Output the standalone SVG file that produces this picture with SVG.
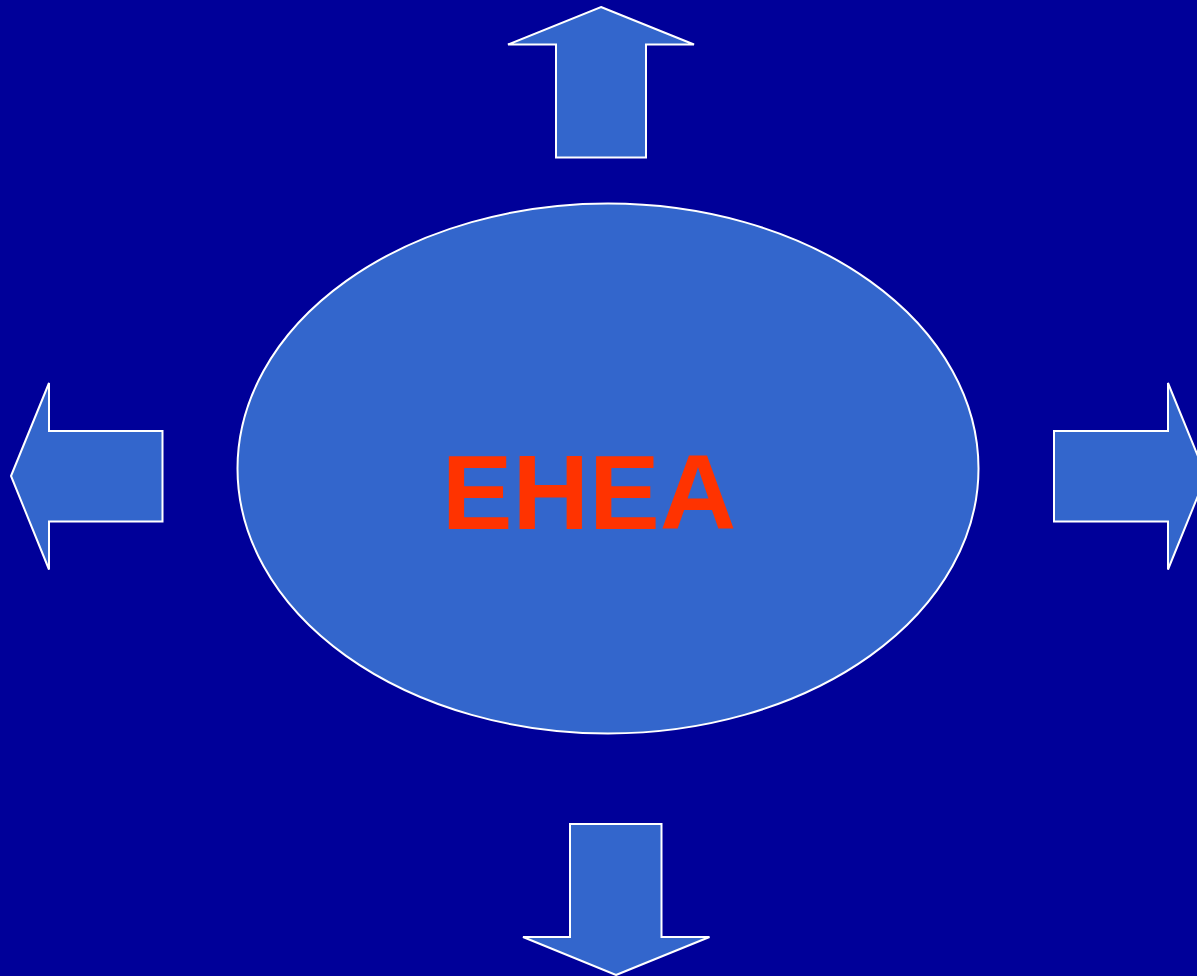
<svg xmlns="http://www.w3.org/2000/svg" width="1197" height="976" viewBox="0 0 1197 976">
<style>
.shape{fill:#3366CC;stroke:#FFFFFF;stroke-width:2}
.label{font-family:"Liberation Sans",Arial,sans-serif;font-weight:bold;fill:#FF3300}
</style>
<rect width="1197" height="976" fill="#000099"/>
<g id="center">
<ellipse class="shape" cx="608" cy="468.5" rx="370.5" ry="265"/>
<text class="label" x="589" y="529" font-size="106" text-anchor="middle">EHEA</text>
</g>
<g id="connectors">
<g id="arrow-up"><polygon class="shape" points="601,7 694,44.5 646,44.5 646,157.5 556,157.5 556,44.5 508,44.5"/></g>
<g id="arrow-left"><polygon class="shape" points="11,476 49,383 49,431 162.5,431 162.5,521.5 49,521.5 49,569.5"/></g>
<g id="arrow-right"><polygon class="shape" points="1206,476 1168,383 1168,431 1054,431 1054,521.5 1168,521.5 1168,569.5"/></g>
<g id="arrow-down"><polygon class="shape" points="616,975 709.5,937 661.5,937 661.5,824 570,824 570,937 523,937"/></g>
</g>
</svg>
